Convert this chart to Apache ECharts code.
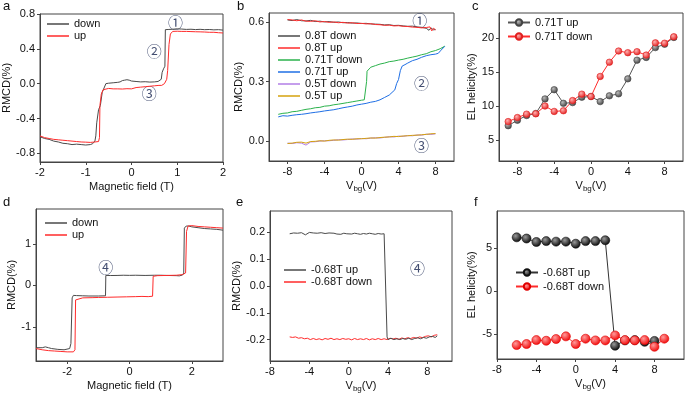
<!DOCTYPE html>
<html>
<head>
<meta charset="utf-8">
<script src="https://cdn.jsdelivr.net/npm/echarts@6/dist/echarts.min.js"></script>
<style>html,body{margin:0;padding:0;background:#fff}#main{width:685px;height:395px}</style>
</head>
<body>
<div id="main"></div>
<script>
// ---- panel a : RMCD vs field ----
var aDown = [[2.0,0.615],[1.9,0.62],[1.8,0.618],[1.7,0.622],[1.6,0.62],[1.5,0.624],[1.4,0.621],[1.3,0.625],[1.2,0.623],[1.1,0.627],[1.0,0.63],[0.9,0.625],[0.8,0.622],[0.74,0.62],[0.73,0.2],[0.7,0.17],[0.67,0.13],[0.65,0.05],[0.62,0.03],[0.58,0.025],[0.5,0.02],[0.4,0.018],[0.3,0.022],[0.2,0.02],[0.1,0.025],[0.0,0.03],[-0.05,0.04],[-0.1,0.045],[-0.15,0.04],[-0.2,0.035],[-0.25,0.02],[-0.3,0.015],[-0.4,0.01],[-0.5,0.005],[-0.56,0.0],[-0.6,-0.02],[-0.64,-0.1],[-0.68,-0.25],[-0.72,-0.3],[-0.76,-0.45],[-0.78,-0.6],[-0.8,-0.66],[-0.85,-0.69],[-0.9,-0.7],[-1.0,-0.705],[-1.1,-0.7],[-1.2,-0.695],[-1.3,-0.7],[-1.4,-0.69],[-1.5,-0.685],[-1.6,-0.67],[-1.7,-0.66],[-1.8,-0.64],[-1.9,-0.63],[-2.0,-0.61]];
var aUp = [[-2.0,-0.6],[-1.9,-0.62],[-1.8,-0.63],[-1.7,-0.64],[-1.6,-0.645],[-1.5,-0.65],[-1.4,-0.655],[-1.3,-0.66],[-1.2,-0.665],[-1.1,-0.67],[-1.0,-0.672],[-0.9,-0.675],[-0.8,-0.67],[-0.72,-0.665],[-0.7,-0.62],[-0.69,-0.25],[-0.66,-0.12],[-0.62,-0.07],[-0.58,-0.05],[-0.5,-0.055],[-0.4,-0.06],[-0.3,-0.06],[-0.2,-0.062],[-0.1,-0.058],[0.0,-0.06],[0.1,-0.045],[0.2,-0.04],[0.3,-0.035],[0.4,-0.03],[0.5,-0.025],[0.6,-0.02],[0.66,-0.02],[0.72,0.0],[0.77,0.05],[0.79,0.15],[0.82,0.45],[0.85,0.57],[0.9,0.6],[1.0,0.602],[1.1,0.6],[1.2,0.6],[1.3,0.598],[1.4,0.596],[1.5,0.595],[1.6,0.593],[1.7,0.59],[1.8,0.59],[1.9,0.585],[2.0,0.582]];
var aNotes = [[0.96,0.70,'①'],[0.5,0.37,'②'],[0.39,-0.11,'③']];

// ---- panel b : RMCD vs Vbg ----
var bDown08 = [[-8,0.61],[-7.5,0.607],[-7,0.612],[-6.5,0.606],[-6,0.605],[-5.5,0.608],[-5,0.602],[-4.5,0.604],[-4,0.6],[-3.5,0.602],[-3,0.598],[-2.5,0.6],[-2,0.596],[-1.5,0.597],[-1,0.594],[-0.5,0.595],[0,0.592],[0.5,0.593],[1,0.59],[1.5,0.589],[2,0.588],[2.5,0.585],[3,0.586],[3.5,0.582],[4,0.583],[4.5,0.58],[5,0.578],[5.5,0.579],[6,0.575],[6.5,0.573],[7,0.568],[7.3,0.558],[7.5,0.57],[7.8,0.56],[8,0.562]];
var bUp08 = [[-8,0.612],[-7.5,0.61],[-7,0.606],[-6.5,0.61],[-6,0.604],[-5.5,0.603],[-5,0.606],[-4.5,0.6],[-4,0.602],[-3.5,0.598],[-3,0.6],[-2.5,0.596],[-2,0.598],[-1.5,0.594],[-1,0.596],[-0.5,0.592],[0,0.593],[0.5,0.59],[1,0.591],[1.5,0.587],[2,0.586],[2.5,0.583],[3,0.584],[3.5,0.58],[4,0.581],[4.5,0.578],[5,0.577],[5.5,0.574],[6,0.573],[6.5,0.57],[7,0.572],[7.2,0.562],[7.4,0.575],[7.6,0.555],[7.8,0.568],[8,0.56]];
var bDown071 = [[-9,0.135],[-8.5,0.14],[-8,0.142],[-7.5,0.148],[-7,0.15],[-6.5,0.155],[-6,0.16],[-5.5,0.163],[-5,0.168],[-4.5,0.17],[-4,0.176],[-3.5,0.178],[-3,0.183],[-2.5,0.186],[-2,0.19],[-1.5,0.194],[-1,0.198],[-0.5,0.202],[0,0.206],[0.3,0.208],[0.5,0.212],[0.55,0.3],[0.6,0.352],[0.8,0.36],[1,0.372],[1.5,0.38],[2,0.388],[2.5,0.393],[3,0.4],[3.5,0.403],[4,0.408],[4.5,0.412],[5,0.418],[5.5,0.423],[6,0.428],[6.5,0.435],[7,0.44],[7.5,0.45],[8,0.456],[8.5,0.465],[9,0.478]];
var bUp071 = [[-9,0.122],[-8.5,0.128],[-8,0.126],[-7.5,0.13],[-7,0.133],[-6.5,0.135],[-6,0.138],[-5.5,0.142],[-5,0.145],[-4.5,0.148],[-4,0.152],[-3.5,0.155],[-3,0.158],[-2.5,0.163],[-2,0.168],[-1.5,0.172],[-1,0.176],[-0.5,0.182],[0,0.186],[0.5,0.19],[1,0.196],[1.5,0.2],[2,0.208],[2.5,0.22],[3,0.232],[3.3,0.245],[3.6,0.258],[3.75,0.265],[3.8,0.29],[4.0,0.31],[4.2,0.355],[4.4,0.378],[4.7,0.385],[5,0.393],[5.5,0.405],[6,0.412],[6.5,0.422],[7,0.43],[7.5,0.435],[8,0.438],[8.3,0.442],[8.6,0.458],[9,0.477]];
var bDown05 = [[-8,-0.01],[-7.5,-0.012],[-7,-0.008],[-6.5,-0.01],[-6,-0.02],[-5.5,-0.004],[-5,-0.003],[-4.5,0.0],[-4,0.002],[-3.5,0.002],[-3,0.004],[-2.5,0.007],[-2,0.006],[-1.5,0.008],[-1,0.011],[-0.5,0.01],[0,0.013],[0.5,0.012],[1,0.015],[1.5,0.017],[2,0.016],[2.5,0.019],[3,0.022],[3.5,0.021],[4,0.025],[4.5,0.024],[5,0.028],[5.5,0.027],[6,0.031],[6.5,0.03],[7,0.035],[7.5,0.034],[8,0.037]];
var bUp05 = [[-8,-0.012],[-7.5,-0.01],[-7,-0.006],[-6.5,-0.005],[-6,-0.01],[-5.5,-0.002],[-5,-0.001],[-4.5,0.002],[-4,0.0],[-3.5,0.004],[-3,0.006],[-2.5,0.005],[-2,0.008],[-1.5,0.01],[-1,0.009],[-0.5,0.012],[0,0.012],[0.5,0.014],[1,0.016],[1.5,0.015],[2,0.018],[2.5,0.02],[3,0.021],[3.5,0.024],[4,0.023],[4.5,0.026],[5,0.027],[5.5,0.029],[6,0.03],[6.5,0.032],[7,0.034],[7.5,0.037],[8,0.038]];
var bNotes = [[6.3,0.606,'①'],[6.5,0.293,'②'],[6.5,-0.02,'③']];

// ---- panel c : EL helicity ----
var cVbg = [-9,-8,-7,-6,-5,-4,-3,-2,-1,0,1,2,3,4,5,6,7,8,9];
var cUp = [7.1,7.9,8.6,8.9,11.05,12.4,10.4,10.5,11.3,11.4,10.65,11.5,11.8,14.0,16.75,17.15,18.6,19.1,20.1];
var cDown = [7.7,8.3,8.8,8.85,10.0,9.2,9.3,10.8,11.75,11.4,14.35,16.45,18.1,17.85,18.0,17.5,19.3,19.25,20.2];

// ---- panel d : RMCD vs field ----
var dDown = [[3,1.33],[2.8,1.35],[2.6,1.36],[2.4,1.37],[2.2,1.39],[2.0,1.41],[1.9,1.43],[1.82,1.43],[1.76,1.38],[1.74,0.3],[1.7,0.25],[1.6,0.23],[1.5,0.235],[1.2,0.24],[1.0,0.245],[0.8,0.245],[0.5,0.24],[0.2,0.245],[0,0.242],[-0.2,0.245],[-0.4,0.24],[-0.6,0.238],[-0.76,0.24],[-0.77,-0.25],[-1.0,-0.255],[-1.3,-0.255],[-1.5,-0.25],[-1.7,-0.245],[-1.8,-0.24],[-1.84,-0.3],[-1.88,-1.4],[-1.92,-1.52],[-2.1,-1.55],[-2.3,-1.54],[-2.5,-1.52],[-2.6,-1.5],[-2.7,-1.48],[-2.8,-1.5],[-3,-1.5]];
var dUp = [[-3,-1.52],[-2.8,-1.55],[-2.6,-1.57],[-2.4,-1.58],[-2.2,-1.59],[-2.0,-1.6],[-1.8,-1.6],[-1.75,-1.55],[-1.73,-0.35],[-1.7,-0.31],[-1.5,-0.3],[-1.2,-0.295],[-1.0,-0.29],[-0.7,-0.285],[-0.4,-0.28],[-0.1,-0.275],[0.2,-0.27],[0.4,-0.265],[0.6,-0.27],[0.74,-0.26],[0.76,0.22],[0.9,0.235],[1.2,0.24],[1.5,0.245],[1.7,0.26],[1.8,0.3],[1.83,1.3],[1.88,1.43],[2.0,1.44],[2.2,1.42],[2.4,1.41],[2.6,1.4],[2.8,1.39],[3.0,1.38]];
var dNotes = [[-0.76,0.43,'④']];

// ---- panel e : RMCD vs Vbg at -0.68T ----
var eUp = [[-6,0.195],[-5.8,0.19],[-5.6,0.198],[-5.4,0.193],[-5.2,0.197],[-5,0.192],[-4.8,0.199],[-4.6,0.195],[-4.4,0.191],[-4.2,0.197],[-4,0.2],[-3.8,0.194],[-3.6,0.198],[-3.4,0.193],[-3.2,0.197],[-3,0.195],[-2.8,0.199],[-2.6,0.194],[-2.4,0.196],[-2.2,0.193],[-2,0.198],[-1.8,0.195],[-1.5,0.197],[-1.2,0.194],[-1,0.196],[-0.8,0.193],[-0.5,0.197],[-0.2,0.195],[0,0.196],[0.3,0.194],[0.6,0.197],[0.9,0.195],[1.2,0.193],[1.5,0.196],[1.8,0.194],[2.1,0.197],[2.4,0.195],[2.7,0.193],[3,0.196],[3.3,0.194],[3.6,0.195],[3.7,0.193],[3.9,-0.19],[4,-0.2],[4.3,-0.195],[4.6,-0.2],[4.9,-0.197],[5.2,-0.2],[5.5,-0.196],[5.8,-0.199],[6.1,-0.195],[6.4,-0.2],[6.7,-0.196],[7,-0.193],[7.3,-0.197],[7.6,-0.192],[7.9,-0.195],[8.2,-0.19],[8.5,-0.188],[8.8,-0.192],[9,-0.186]];
var eDown = [[-6,-0.19],[-5.7,-0.192],[-5.4,-0.19],[-5.1,-0.195],[-4.8,-0.193],[-4.5,-0.197],[-4.2,-0.195],[-3.9,-0.2],[-3.6,-0.196],[-3.3,-0.2],[-3,-0.197],[-2.7,-0.201],[-2.4,-0.196],[-2.1,-0.199],[-1.8,-0.195],[-1.5,-0.2],[-1.2,-0.197],[-0.9,-0.2],[-0.6,-0.196],[-0.3,-0.199],[0,-0.197],[0.3,-0.201],[0.6,-0.196],[0.9,-0.2],[1.2,-0.197],[1.5,-0.2],[1.8,-0.196],[2.1,-0.201],[2.4,-0.197],[2.7,-0.2],[3,-0.196],[3.3,-0.2],[3.6,-0.197],[3.9,-0.2],[4.2,-0.195],[4.5,-0.198],[4.8,-0.195],[5.1,-0.199],[5.4,-0.194],[5.7,-0.197],[6,-0.193],[6.3,-0.196],[6.6,-0.192],[6.9,-0.195],[7.2,-0.19],[7.5,-0.193],[7.8,-0.188],[8.1,-0.186],[8.4,-0.19],[8.7,-0.184],[9,-0.182]];
var eNotes = [[7.0,0.067,'④']];

// ---- panel f : EL helicity at -0.68T ----
var fUpVbg = [-6,-5,-4,-3,-2,-1,0,1,2,3,4,5,6,7,8];
var fUp = [6.24,6.1,5.7,5.8,5.74,5.74,5.5,5.8,5.8,5.9,-6.36,-5.74,-5.7,-5.9,-5.8];
var fDownVbg = [-6,-5,-4,-3,-2,-1,0,1,2,3,4,5,6,7,8,9];
var fDown = [-6.28,-6.16,-5.7,-5.78,-5.58,-5.27,-6.16,-5.54,-5.74,-5.74,-5.16,-5.7,-5.74,-5.7,-6.48,-5.54];

var FONT = 'Liberation Sans';
var GRAY = '#4a4a4a', RED = '#ff2b2b';
var ZW = '\u200b'; // keeps legend names of panels c/f apart from b/e

function pairs(xs, ys) { return xs.map(function (x, i) { return [x, ys[i]]; }); }

var grids = [
    { left: 39, top: 14, width: 184, height: 148 },
    { left: 269, top: 13, width: 185, height: 148 },
    { left: 499, top: 13, width: 184, height: 148 },
    { left: 36, top: 209, width: 187, height: 152 },
    { left: 270, top: 211, width: 182, height: 150 },
    { left: 497, top: 211, width: 187, height: 148 }
];
grids.forEach(function (g) { g.show = true; g.borderColor = '#444'; g.borderWidth = 1; });

function axis(gi, min, max, ticks, dec, extra) {
    var ax = {
        type: 'value', gridIndex: gi, min: min, max: max,
        splitLine: { show: false },
        axisLine: { show: true, onZero: false, lineStyle: { color: '#444' } },
        axisTick: { show: true, length: 3, customValues: ticks, lineStyle: { color: '#444' } },
        axisLabel: { customValues: ticks, fontFamily: FONT, fontSize: 11, color: '#111', margin: 5,
            formatter: function (v) { return v.toFixed(dec); } },
        nameTextStyle: { fontFamily: FONT, fontSize: 11, color: '#111',
            rich: { sub: { fontSize: 8, verticalAlign: 'bottom', padding: [6, 0, 0, 0], fontFamily: FONT } } }
    };
    for (var k in extra) ax[k] = extra[k];
    return ax;
}
function xName(n, gap) { return { name: n, nameLocation: 'middle', nameGap: gap }; }
function yName(n, gap) { return { name: n, nameLocation: 'middle', nameGap: gap, nameRotate: 90 }; }

var VBG = 'V{sub|bg}(V)';
var xAxes = [
    axis(0, -2, 2, [-2, -1, 0, 1, 2], 0, xName('Magnetic field (T)', 19)),
    axis(1, -10, 10, [-8, -4, 0, 4, 8], 0, xName(VBG, 18)),
    axis(2, -10, 10, [-8, -4, 0, 4, 8], 0, xName(VBG, 18)),
    axis(3, -3, 3, [-2, 0, 2], 0, xName('Magnetic field (T)', 19)),
    axis(4, -8, 10.5, [-8, -4, 0, 4, 8], 0, xName(VBG, 18)),
    axis(5, -8, 11, [-8, -4, 0, 4, 8], 0, xName(VBG, 18))
];
var yAxes = [
    axis(0, -0.9, 0.8, [-0.8, -0.4, 0, 0.4, 0.8], 1, yName('RMCD(%)', 28)),
    axis(1, -0.1, 0.645, [0, 0.3, 0.6], 1, yName('RMCD(%)', 22)),
    axis(2, 1.9, 23.7, [5, 10, 15, 20], 0, yName('EL helicity(%)', 20)),
    axis(3, -1.82, 1.84, [-1, 0, 1], 0, yName('RMCD(%)', 18)),
    axis(4, -0.28, 0.28, [-0.2, -0.1, 0, 0.1, 0.2], 1, yName('RMCD(%)', 28)),
    axis(5, -7.9, 9.3, [-5, 0, 5], 0, yName('EL helicity(%)', 20))
];

function line(name, data, color, gi) {
    return { name: name, type: 'line', xAxisIndex: gi, yAxisIndex: gi, data: data,
        symbol: 'none', lineStyle: { width: 1, color: color }, itemStyle: { color: color } };
}
function ball(c0, c1) {
    return { type: 'radial', x: 0.38, y: 0.35, r: 0.7,
        colorStops: [{ offset: 0, color: c0 }, { offset: 1, color: c1 }] };
}
function dots(name, data, color, fill, border, size, gi) {
    return { name: name, type: 'line', xAxisIndex: gi, yAxisIndex: gi, data: data,
        symbol: 'circle', symbolSize: size, showSymbol: true,
        lineStyle: { width: 1, color: color },
        itemStyle: { color: fill, borderColor: border, borderWidth: 0.6 } };
}
function notes(data, gi) {
    return { type: 'scatter', xAxisIndex: gi, yAxisIndex: gi, data: data, symbolSize: 0, silent: true,
        label: { show: true, position: 'inside', formatter: function (p) { return p.value[2]; },
            fontFamily: 'Noto Sans CJK SC', fontSize: 15, color: '#14224d' } };
}

var series = [
    line('down', aDown, GRAY, 0),
    line('up', aUp, RED, 0),
    notes(aNotes, 0),
    line('0.8T down', bDown08, GRAY, 1),
    line('0.8T up', bUp08, RED, 1),
    line('0.71T down', bDown071, '#2bb24c', 1),
    line('0.71T up', bUp071, '#1f6fe5', 1),
    line('0.5T down', bDown05, '#b27ee6', 1),
    line('0.5T up', bUp05, '#d4a20e', 1),
    notes(bNotes, 1),
    dots('0.71T up' + ZW, pairs(cVbg, cUp), '#555', ball('#bbb', '#3a3a3a'), '#444', 6.5, 2),
    dots('0.71T down' + ZW, pairs(cVbg, cDown), RED, ball('#ffb0b0', '#e01515'), '#e02020', 6.5, 2),
    line('down', dDown, GRAY, 3),
    line('up', dUp, RED, 3),
    notes(dNotes, 3),
    line('-0.68T down', eDown, RED, 4),
    line('-0.68T up', eUp, GRAY, 4),
    notes(eNotes, 4),
    dots('-0.68T up' + ZW, pairs(fUpVbg, fUp), '#333', ball('#999', '#000'), '#111', 9, 5),
    dots('-0.68T down' + ZW, pairs(fDownVbg, fDown), RED, ball('#ff9a9a', '#f00000'), '#e00000', 9, 5)
];

function legend(names, left, top, isLine) {
    var lg = { data: names, left: left, top: top, orient: 'vertical', itemWidth: 22, itemHeight: 8,
        itemGap: 3, padding: 0, selectedMode: false,
        textStyle: { fontFamily: FONT, fontSize: 11, color: '#111' } };
    if (isLine) { lg.icon = 'rect'; lg.itemHeight = 1.5; lg.itemGap = 0; lg.textStyle.lineHeight = 12; }
    return lg;
}

var letters = [['a', 3, 0], ['b', 237, 0], ['c', 472, 0], ['d', 3, 196], ['e', 236, 196], ['f', 474, 196]];

var option = {
    animation: false,
    backgroundColor: '#fff',
    title: letters.map(function (l) {
        return { text: l[0], left: l[1], top: l[2], padding: 0,
            textStyle: { fontFamily: FONT, fontSize: 13, fontWeight: 'normal', color: '#111' } };
    }),
    legend: [
        legend(['down', 'up'], 47, 18, true),
        legend(['0.8T down', '0.8T up', '0.71T down', '0.71T up', '0.5T down', '0.5T up'], 278, 30, true),
        legend(['0.71T up' + ZW, '0.71T down' + ZW], 507, 17, false),
        legend(['down', 'up'], 45, 217, true),
        legend(['-0.68T up', '-0.68T down'], 284, 264, true),
        legend(['-0.68T up' + ZW, '-0.68T down' + ZW], 515, 267, false)
    ],
    grid: grids,
    xAxis: xAxes,
    yAxis: yAxes,
    series: series
};

var myChart = echarts.init(document.getElementById('main'));
myChart.setOption(option);
</script>
</body>
</html>
